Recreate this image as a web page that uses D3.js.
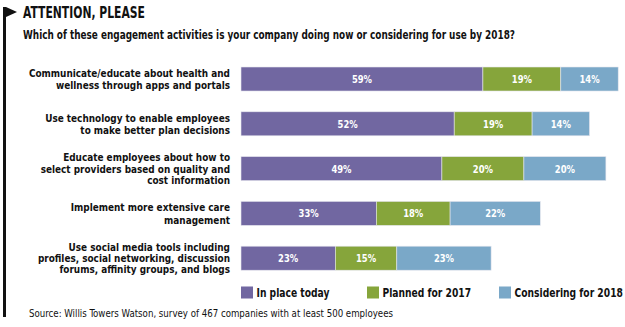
<!DOCTYPE html>
<html><head>
<meta charset="utf-8">
<script src="https://d3js.org/d3.v7.min.js"></script>
<style>
  body { margin: 0; background: #fff; }
  text { font-family: "DejaVu Sans Condensed", "Liberation Sans", sans-serif; }
</style>
</head>
<body>
<div id="chart"></div>
<script>
// Data
const activities = [
  ["Communicate/educate about health and", "wellness through apps and portals"],
  ["Use technology to enable employees", "to make better plan decisions"],
  ["Educate employees about how to", "select providers based on quality and", "cost information"],
  ["Implement more extensive care", "management"],
  ["Use social media tools including", "profiles, social networking, discussion", "forums, affinity groups, and blogs"]
];
const inPlace = [59, 52, 49, 33, 23];
const planned = [19, 19, 20, 18, 15];
const considering = [14, 14, 20, 22, 23];
const seriesNames = ["In place today", "Planned for 2017", "Considering for 2018"];
const colors = ["#7167a1", "#86a53b", "#7aa8c8"];

const width = 625, height = 327;
const svg = d3.select("#chart").append("svg")
  .attr("width", width).attr("height", height);

// squeezed text, since the condensed face of the original isn't available
function condText(parent, x, y, str, opts) {
  const g = parent.append("g").attr("transform", `translate(${x},${y}) scale(${opts.sx || 0.88},1)`);
  return g.append("text").attr("x", 0).attr("y", 0)
    .attr("text-anchor", opts.anchor || "start")
    .attr("font-size", opts.size || 11)
    .attr("font-weight", opts.weight || "bold")
    .attr("fill", opts.fill || "#111")
    .text(str);
}

// flag + rule down the left side
svg.append("rect").attr("x", 3).attr("y", 7).attr("width", 3).attr("height", 310).attr("fill", "#111");
svg.append("path").attr("d", "M6,7 L17,12 L6,17 Z").attr("fill", "#111");

svg.append("text").attr("x", 23).attr("y", 17.5)
  .attr("font-size", 15).attr("font-weight", "bold").attr("fill", "#111")
  .attr("textLength", 122).attr("lengthAdjust", "spacingAndGlyphs")
  .text("ATTENTION, PLEASE");
svg.append("text").attr("x", 23).attr("y", 38.5)
  .attr("font-size", 12).attr("font-weight", "bold").attr("fill", "#111")
  .attr("textLength", 492).attr("lengthAdjust", "spacingAndGlyphs")
  .text("Which of these engagement activities is your company doing now or considering for use by 2018?");

const x = d3.scaleLinear().domain([0, 100]).range([241, 651]);
const y = d3.scaleBand().domain(d3.range(activities.length))
  .range([67, 270.2]).paddingInner(0.464).paddingOuter(0);

const rows = activities.map((a, i) => {
  const vals = [inPlace[i], planned[i], considering[i]];
  let acc = 0;
  return vals.map((v, k) => { const s = { i, k, v, x0: acc, x1: acc + v }; acc += v; return s; });
});

const g = svg.append("g");
rows.forEach(segs => {
  g.selectAll(null).data(segs).join("rect")
    .attr("x", d => x(d.x0)).attr("width", d => x(d.x1) - x(d.x0))
    .attr("y", d => y(d.i)).attr("height", y.bandwidth())
    .attr("fill", d => colors[d.k])
    .attr("stroke", "#e6e6ee").attr("stroke-width", 0.6);
  segs.forEach(d => {
    condText(g, (x(d.x0) + x(d.x1)) / 2, y(d.i) + y.bandwidth() / 2 + 4,
      d.v + "%", { anchor: "middle", size: 11, fill: "#fff", sx: 0.85 });
  });
});

// category labels
activities.forEach((lines, i) => {
  const lh = lines.length === 3 ? 11.3 : 12.3;
  const cy = y(i) + y.bandwidth() / 2;
  lines.forEach((l, j) => {
    condText(svg, 230, cy + (j - (lines.length - 1) / 2) * lh + 4, l,
      { anchor: "end", size: 11, sx: 0.9 });
  });
});

// legend
const legX = [241, 367, 499];
seriesNames.forEach((n, k) => {
  svg.append("rect").attr("x", legX[k]).attr("y", 286.5).attr("width", 12).attr("height", 12)
    .attr("fill", colors[k]);
  condText(svg, legX[k] + 15.5, 296.5, n, { size: 12, sx: 0.85 });
});

svg.append("text").attr("x", 29).attr("y", 317)
  .attr("font-size", 10.5).attr("fill", "#111")
  .attr("textLength", 364).attr("lengthAdjust", "spacingAndGlyphs")
  .text("Source: Willis Towers Watson, survey of 467 companies with at least 500 employees");
</script>
</body></html>
